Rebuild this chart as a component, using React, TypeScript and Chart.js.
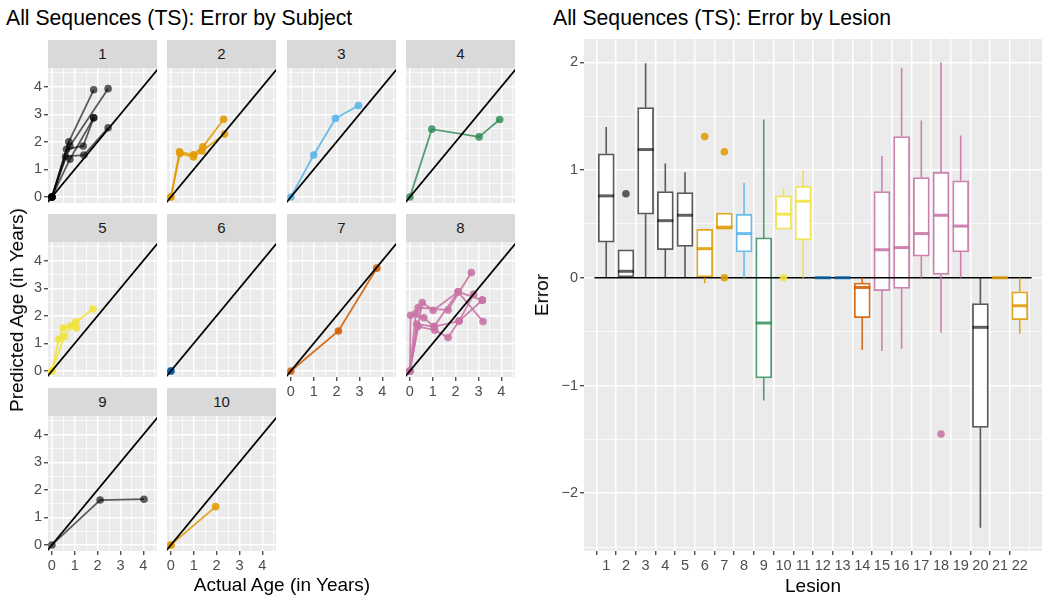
import React, { useEffect, useRef } from 'react';
import { Chart, registerables } from 'chart.js';
Chart.register(...registerables);

const FONT = '"Liberation Sans", Arial, Helvetica, sans-serif';

// ---------- Facet data: each lesion is a path of [actual age, predicted age] ----------
const subject1Lesions: number[][][] = [
  [[0, 0], [0.6, 1.47], [1.4, 1.52], [2.46, 2.51]],
  [[0, 0], [0.64, 1.73], [1.37, 1.85], [1.83, 2.87]],
  [[0, 0], [0.74, 2.0], [1.83, 3.89]],
  [[0, 0], [0.79, 1.85], [2.46, 3.93]],
  [[0, 0], [0.79, 1.37], [1.83, 2.87]],
];
const subject2Lesions: number[][][] = [
  [[0, 0], [0.38, 1.64], [0.99, 1.53], [1.4, 1.82], [2.31, 2.82]],
  [[0, 0], [0.4, 1.58], [0.99, 1.45], [1.36, 1.67], [2.35, 2.28]],
];
const subject3Lesions: number[][][] = [[[0, 0], [1.0, 1.52], [1.95, 2.85], [2.96, 3.32]]];
const subject4Lesions: number[][][] = [[[0, 0], [0.96, 2.46], [3.03, 2.18], [3.93, 2.81]]];
const subject5Lesions: number[][][] = [
  [[0, 0], [0.3, 1.15], [0.5, 1.56], [1.05, 1.78], [1.8, 2.25]],
  [[0, 0], [0.55, 1.25], [0.83, 1.63], [1.08, 1.56]],
];
const subject6Lesions: number[][][] = [[[0, 0]], [[0, 0]]];
const subject7Lesions: number[][][] = [[[0, 0], [2.08, 1.45], [3.76, 3.73]]];
const subject8Lesions: number[][][] = [
  [[0, 0], [0.36, 1.61], [1.09, 1.48], [1.67, 1.21], [2.15, 1.81], [2.79, 2.78]],
  [[0, 0], [0.03, 2.02], [0.61, 1.93], [1.06, 1.61], [2.11, 2.87], [3.17, 2.57]],
  [[0, 0], [0.26, 2.09], [0.36, 2.3], [1.67, 2.21], [2.69, 3.57]],
  [[0, 0], [0.54, 2.48], [1.02, 2.2], [2.11, 2.87], [3.2, 1.79]],
  [[0, 0], [0.3, 1.7], [1.06, 1.61], [2.15, 1.81], [3.17, 2.57]],
];
const subject9Lesions: number[][][] = [[[0, 0], [2.11, 1.63], [4.03, 1.66]]];
const subject10Lesions: number[][][] = [[[0, 0], [1.96, 1.39]], [[0, 0]]];

const subjectLabels = ['1', '2', '3', '4', '5', '6', '7', '8', '9', '10'];
const subjectData = [
  subject1Lesions, subject2Lesions, subject3Lesions, subject4Lesions, subject5Lesions,
  subject6Lesions, subject7Lesions, subject8Lesions, subject9Lesions, subject10Lesions,
];
const subjectColors = [
  'rgba(0,0,0,0.62)', 'rgba(225,155,0,0.88)', 'rgba(86,180,233,0.88)', 'rgba(46,139,87,0.82)',
  'rgba(240,226,60,0.88)', 'rgba(0,95,165,0.85)', 'rgba(210,92,0,0.88)', 'rgba(200,115,165,0.88)',
  'rgba(0,0,0,0.62)', 'rgba(225,155,0,0.88)',
];
const ageTicks = [0, 1, 2, 3, 4];

// ---------- Boxplot data (Error by Lesion) ----------
const lesionIds = [1, 2, 3, 4, 5, 6, 7, 8, 9, 10, 11, 12, 13, 14, 15, 16, 17, 18, 19, 20, 21, 22];
const lesionSubject = [1, 1, 1, 1, 1, 2, 2, 3, 4, 5, 5, 6, 6, 7, 8, 8, 8, 8, 8, 9, 10, 10];
const boxMin = [0, 0, 0, 0, 0, -0.05, 0.45, 0, -1.14, 0.45, 0, 0, 0, -0.67, -0.68, -0.66, 0, -0.51, 0, -2.32, 0, -0.52];
const boxQ1 = [0.33, 0, 0.59, 0.26, 0.29, 0, 0.45, 0.24, -0.93, 0.45, 0.35, 0, 0, -0.37, -0.12, -0.1, 0.2, 0.03, 0.24, -1.39, 0, -0.39];
const boxMedian = [0.76, 0.06, 1.19, 0.53, 0.58, 0.27, 0.47, 0.41, -0.42, 0.59, 0.71, 0, 0, -0.09, 0.26, 0.28, 0.41, 0.58, 0.48, -0.46, 0, -0.26];
const boxQ3 = [1.15, 0.26, 1.58, 0.8, 0.79, 0.45, 0.6, 0.59, 0.37, 0.76, 0.85, 0, 0, -0.05, 0.8, 1.31, 0.93, 0.98, 0.9, -0.24, 0, -0.13];
const boxMax = [1.4, 0.26, 1.99, 1.06, 0.98, 0.45, 0.6, 0.88, 1.47, 0.83, 1.0, 0, 0, 0, 1.13, 1.95, 1.46, 2.0, 1.32, 0, 0, 0];
const outlierLesion = [2, 6, 7, 7, 10, 18];
const outlierError = [0.78, 1.31, 1.17, 0, 0, -1.45];
const errorTicks = [-2, -1, 0, 1, 2];

// ---------- layout constants ----------
const PW = 109, PH = 135, LA = 30, BA = 24, PT = 5, PR = 5;
const colLefts = [48, 167, 287, 406];
const rowTops = [68, 242, 416];
const X_MIN = -0.17, X_MAX = 4.6, Y_MIN = -0.22, Y_MAX = 4.68;
const TICK_FONT = 14.5;

const bgPlugin = {
  id: 'panelBg',
  beforeDraw(chart: any) {
    const { ctx, chartArea: a } = chart;
    ctx.save();
    ctx.fillStyle = '#EBEBEB';
    ctx.fillRect(a.left, a.top, a.right - a.left, a.bottom - a.top);
    ctx.restore();
  },
};

const isMajor = (v: number, majors: number[]) => majors.some((m) => Math.abs(m - v) < 1e-6);
const tickVal = (c: any) => (c && c.tick ? c.tick.value : NaN);
const fmt = (v: number) => (v < 0 ? '\u2212' + Math.abs(v) : String(v));

function axisOpts(showLabels: boolean, majors: number[], min: number, max: number, step: number, fixedSize: number, horizontal: boolean) {
  return {
    type: 'linear',
    min,
    max,
    afterFit: (s: any) => {
      if (horizontal) s.height = fixedSize; else s.width = fixedSize;
      s.paddingLeft = 0; s.paddingRight = 0; s.paddingTop = 0; s.paddingBottom = 0;
    },
    ticks: {
      display: showLabels,
      stepSize: step,
      includeBounds: false,
      autoSkip: false,
      maxRotation: 0,
      minRotation: 0,
      maxTicksLimit: 100,
      padding: 2,
      color: '#4D4D4D',
      font: { family: FONT, size: TICK_FONT },
      callback: (v: any) => (isMajor(Number(v), majors) ? fmt(Number(v)) : ''),
    },
    grid: {
      color: '#FFFFFF',
      lineWidth: (c: any) => (isMajor(tickVal(c), majors) ? 1.5 : 0.75),
      drawTicks: showLabels,
      tickLength: 4,
      tickWidth: 1.2,
      tickColor: (c: any) => (isMajor(tickVal(c), majors) ? '#333333' : 'rgba(0,0,0,0)'),
    },
    border: { display: false, color: 'rgba(0,0,0,0)', width: 0 },
  };
}

function FacetPanel({ idx }: { idx: number }) {
  const ref = useRef<HTMLCanvasElement>(null);
  const row = Math.floor(idx / 4);
  const col = idx % 4;
  const left = colLefts[col];
  const top = rowTops[row];
  const showY = col === 0;
  const showX = idx >= 6;
  const W = LA + PW + PR;
  const H = PT + PH + BA;
  useEffect(() => {
    const color = subjectColors[idx];
    const datasets: any[] = [
      {
        data: [{ x: -1, y: -1 }, { x: 6, y: 6 }],
        showLine: true,
        borderColor: '#000000',
        borderWidth: 1.7,
        pointRadius: 0,
        clip: 0,
      },
      ...subjectData[idx].map((path) => ({
        data: path.map(([x, y]) => ({ x, y })),
        showLine: true,
        borderColor: color,
        backgroundColor: color,
        borderWidth: 1.8,
        pointRadius: 3.8,
        pointBorderWidth: 0,
        pointBackgroundColor: color,
      })),
    ];
    const chart = new Chart(ref.current as HTMLCanvasElement, {
      type: 'scatter',
      data: { datasets },
      options: {
        responsive: false,
        maintainAspectRatio: false,
        animation: false,
        events: [],
        layout: { padding: { left: 0, top: PT, right: PR, bottom: 0 } },
        plugins: { legend: { display: false }, tooltip: { enabled: false } },
        scales: {
          x: axisOpts(showX, ageTicks, X_MIN, X_MAX, 0.5, BA, true),
          y: axisOpts(showY, ageTicks, Y_MIN, Y_MAX, 0.5, LA, false),
        },
      } as any,
      plugins: [bgPlugin],
    });
    return () => chart.destroy();
  }, []);
  return (
    <>
      <div
        style={{
          position: 'absolute', left, top: top - 28, width: PW, height: 28,
          background: '#D9D9D9', color: '#1A1A1A', fontSize: 15, lineHeight: '28px', textAlign: 'center',
        }}
      >
        {subjectLabels[idx]}
      </div>
      <canvas
        ref={ref}
        width={W}
        height={H}
        style={{ position: 'absolute', left: left - LA, top: top - PT, width: W, height: H }}
      />
    </>
  );
}

// ---------- boxplot ----------
const BP_LEFT = 584, BP_TOP = 39, BP_W = 458, BP_H = 512, BP_LA = 44;
const E_MIN = -2.536, E_MAX = 2.216;

function BoxPanel() {
  const ref = useRef<HTMLCanvasElement>(null);
  const W = BP_LA + BP_W + PR;
  const H = PT + BP_H + BA;
  useEffect(() => {
    const colors = lesionSubject.map((s) => subjectColors[s - 1]);
    const boxPlugin = {
      id: 'boxParts',
      afterDatasetsDraw(chart: any) {
        const { ctx } = chart;
        const xs = chart.scales.x;
        const ys = chart.scales.y;
        const half = 8;
        ctx.save();
        lesionIds.forEach((id, i) => {
          const px = xs.getPixelForValue(id);
          ctx.strokeStyle = colors[i];
          ctx.lineWidth = 1.6;
          ctx.beginPath();
          if (boxMax[i] > boxQ3[i]) {
            ctx.moveTo(px, ys.getPixelForValue(boxQ3[i]));
            ctx.lineTo(px, ys.getPixelForValue(boxMax[i]));
          }
          if (boxMin[i] < boxQ1[i]) {
            ctx.moveTo(px, ys.getPixelForValue(boxQ1[i]));
            ctx.lineTo(px, ys.getPixelForValue(boxMin[i]));
          }
          ctx.stroke();
          ctx.lineWidth = 3;
          ctx.beginPath();
          const my = ys.getPixelForValue(boxMedian[i]);
          ctx.moveTo(px - half, my);
          ctx.lineTo(px + half, my);
          ctx.stroke();
        });
        ctx.restore();
      },
    };
    const chart = new Chart(ref.current as HTMLCanvasElement, {
      type: 'bar',
      data: {
        datasets: [
          {
            type: 'bar',
            data: lesionIds.map((id, i) => ({ x: id, y: [boxQ1[i], boxQ3[i]] })),
            backgroundColor: '#FFFFFF',
            borderColor: colors,
            borderWidth: 1.8,
            borderSkipped: false,
            barThickness: 16,
            order: 3,
          },
          {
            type: 'line',
            data: [{ x: 0.4, y: 0 }, { x: 22.6, y: 0 }],
            borderColor: '#000000',
            borderWidth: 1.7,
            pointRadius: 0,
            order: 2,
          },
          {
            type: 'line',
            data: outlierLesion.map((l, i) => ({ x: l, y: outlierError[i] })),
            showLine: false,
            pointRadius: 3.8,
            pointBorderWidth: 0,
            pointBackgroundColor: outlierLesion.map((l) => subjectColors[lesionSubject[l - 1] - 1]),
            order: 1,
          },
        ],
      } as any,
      options: {
        responsive: false,
        maintainAspectRatio: false,
        animation: false,
        events: [],
        layout: { padding: { left: 0, top: PT, right: PR, bottom: 0 } },
        plugins: { legend: { display: false }, tooltip: { enabled: false } },
        scales: {
          x: axisOpts(true, lesionIds, 0.4, 22.6, 1, BA, true),
          y: axisOpts(true, errorTicks, E_MIN, E_MAX, 0.5, BP_LA, false),
        },
      } as any,
      plugins: [bgPlugin, boxPlugin],
    });
    return () => chart.destroy();
  }, []);
  return (
    <canvas
      ref={ref}
      width={W}
      height={H}
      style={{ position: 'absolute', left: BP_LEFT - BP_LA, top: BP_TOP - PT, width: W, height: H }}
    />
  );
}

const textStyle = (extra: any) => ({ position: 'absolute', whiteSpace: 'nowrap', color: '#000', ...extra });

export default function App() {
  return (
    <div
      style={{
        position: 'fixed', left: 0, top: 0, width: 1050, height: 603, background: '#FFFFFF',
        fontFamily: FONT, overflow: 'hidden',
      }}
    >
      <div style={textStyle({ left: 6, top: 5, fontSize: 21.2, lineHeight: '26px' })}>
        All Sequences (TS): Error by Subject
      </div>
      <div style={textStyle({ left: 553, top: 5, fontSize: 21.2, lineHeight: '26px' })}>
        All Sequences (TS): Error by Lesion
      </div>
      {subjectLabels.map((_, i) => (
        <FacetPanel key={i} idx={i} />
      ))}
      <BoxPanel />
      <div style={textStyle({ left: 17, top: 310, fontSize: 19, lineHeight: '22px', transform: 'translate(-50%, -50%) rotate(-90deg)' })}>
        Predicted Age (in Years)
      </div>
      <div style={textStyle({ left: 282, top: 585, fontSize: 19, lineHeight: '22px', transform: 'translate(-50%, -50%)' })}>
        Actual Age (in Years)
      </div>
      <div style={textStyle({ left: 542, top: 295, fontSize: 19, lineHeight: '22px', transform: 'translate(-50%, -50%) rotate(-90deg)' })}>
        Error
      </div>
      <div style={textStyle({ left: 813, top: 586, fontSize: 19, lineHeight: '22px', transform: 'translate(-50%, -50%)' })}>
        Lesion
      </div>
    </div>
  );
}
